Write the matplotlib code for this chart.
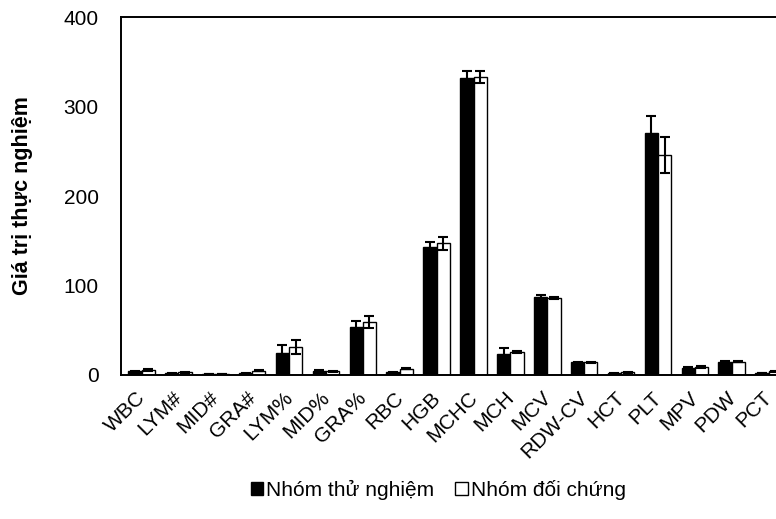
import numpy as np
import matplotlib
matplotlib.use("Agg")
import matplotlib.pyplot as plt
import matplotlib.transforms as mtransforms
from matplotlib.patches import Patch

plt.rcParams['font.family'] = ['Liberation Sans', 'DejaVu Sans']

categories = ['WBC', 'LYM#', 'MID#', 'GRA#', 'LYM%', 'MID%', 'GRA%', 'RBC', 'HGB',
              'MCHC', 'MCH', 'MCV', 'RDW-CV', 'HCT', 'PLT', 'MPV', 'PDW', 'PCT']
test_values = [4, 2, 1, 2, 25, 5, 54, 3, 143, 332, 24, 87, 14, 2, 270, 8, 15, 2]
test_err = [1, 0.5, 0.3, 0.5, 8, 1, 6, 0.5, 6, 8, 6, 2, 1, 0.5, 20, 1, 1, 0.3]
control_values = [6, 3, 1, 5, 31, 4, 59, 7, 147, 333, 26, 86, 14, 3, 246, 9, 15, 4]
control_err = [1, 0.5, 0.3, 0.5, 8, 1, 7, 0.5, 7, 7, 1, 1, 1, 0.5, 20, 1, 1, 0.3]

fig = plt.figure(figsize=(7.76, 5.19), dpi=100)
ax = fig.add_axes([0.156, 0.2775, 0.844, 0.6895])

x = np.arange(len(categories))
w = 0.36
err_kw = dict(ecolor='black', elinewidth=1.5, capsize=3.5, capthick=1.5)
ax.bar(x - w / 2, test_values, w, yerr=test_err, color='black', edgecolor='black',
       linewidth=1, error_kw=err_kw, label='Nhóm thử nghiệm')
ax.bar(x + w / 2, control_values, w, yerr=control_err, color='white', edgecolor='black',
       linewidth=1, error_kw=err_kw, label='Nhóm đối chứng')

ax.set_xlim(-0.555, 17.2)
ax.set_ylim(0, 400)
ax.set_yticks([0, 100, 200, 300, 400])
ax.tick_params(axis='y', length=0, labelsize=15, pad=16)
ax.tick_params(axis='x', length=0, labelsize=15, pad=8)
ax.set_xticks(x)
ax.set_xticklabels(categories, rotation=45, ha='right', va='top', rotation_mode='anchor')
# nudge the rotated labels a little left, like the original
shift = mtransforms.ScaledTranslation(-6 / 100, -2 / 100, fig.dpi_scale_trans)
for lbl in ax.get_xticklabels():
    lbl.set_transform(lbl.get_transform() + shift)

ax.spines['right'].set_visible(False)
for s in ['left', 'top', 'bottom']:
    ax.spines[s].set_linewidth(1.4)

ax.set_ylabel('Giá trị thực nghiệm', fontsize=15.5, fontweight='bold', labelpad=22)

handles = [Patch(facecolor='black', edgecolor='black', label='Nhóm thử nghiệm'),
           Patch(facecolor='white', edgecolor='black', label='Nhóm đối chứng')]
fig.legend(handles=handles, loc='center', bbox_to_anchor=(0.565, 0.056), ncol=2,
           frameon=False, fontsize=15, handlelength=0.6, handleheight=0.6,
           handletextpad=0.15, columnspacing=1.0)

fig.savefig('out.png', dpi=100)
